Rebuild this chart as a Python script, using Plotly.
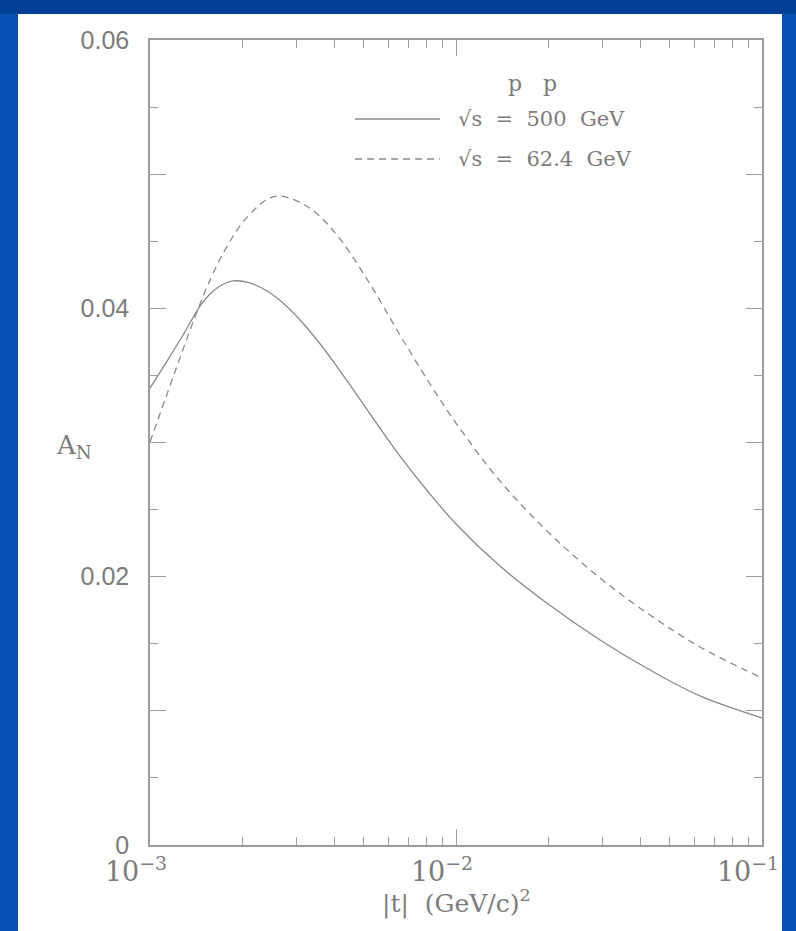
import plotly.graph_objects as go

# |t| values (GeV/c)^2 and analyzing power A_N for the two energies
t_500 = [0.001, 0.001137, 0.001282, 0.001457, 0.001571, 0.001694, 0.001867, 0.002122,
         0.002412, 0.002721, 0.003093, 0.003514, 0.003963, 0.004503, 0.005436, 0.006561,
         0.008222, 0.01, 0.01392, 0.02, 0.02956, 0.04305, 0.06272, 0.1]
an_500 = [0.03406, 0.03607, 0.03801, 0.04017, 0.04107, 0.04166, 0.04204, 0.04189,
          0.04129, 0.0404, 0.03913, 0.03764, 0.03607, 0.03429, 0.0316, 0.02899,
          0.02616, 0.02393, 0.02079, 0.01796, 0.01528, 0.01304, 0.01111, 0.00947]

t_624 = [0.001, 0.001119, 0.001253, 0.001403, 0.001571, 0.001758, 0.001968, 0.002203,
         0.002393, 0.0026, 0.002978, 0.003461, 0.004176, 0.005236, 0.006561, 0.008222,
         0.01, 0.01392, 0.02, 0.02956, 0.04305, 0.06272, 0.1]
an_624 = [0.03004, 0.03317, 0.0363, 0.03935, 0.04211, 0.04435, 0.04614, 0.0474,
          0.04807, 0.04837, 0.04807, 0.04718, 0.04517, 0.04181, 0.03801, 0.03436,
          0.03145, 0.02713, 0.02333, 0.0199, 0.01714, 0.01476, 0.01245]

x_major = [0.001, 0.01, 0.1]
x_major_text = ["10<sup>\u22123</sup>", "10<sup>\u22122</sup>", "10<sup>\u22121</sup>"]
x_minor = [m * d for d in (0.001, 0.01) for m in range(2, 10)]
y_major = [0, 0.01, 0.02, 0.03, 0.04, 0.05, 0.06]
y_major_text = ["0", "", "0.02", "", "0.04", "", "0.06"]
y_minor = [0.005, 0.015, 0.025, 0.035, 0.045, 0.055]

NB = "\u00a0"
legend_title = "p" + NB * 3 + "p"
legend_labels = ["\u221as" + NB * 2 + "=" + NB * 2 + "500" + NB * 2 + "GeV",
                 "\u221as" + NB * 2 + "=" + NB * 2 + "62.4" + NB * 2 + "GeV"]

INK = "#7c7c7c"
LINE = "#8a8a8a"
AXIS = "#9c9c9c"
SERIF = "DejaVu Serif"

fig = go.Figure()
fig.add_trace(go.Scatter(x=t_500, y=an_500, mode="lines",
                         line=dict(color=LINE, width=1.3, shape="spline", smoothing=1.0),
                         showlegend=False))
fig.add_trace(go.Scatter(x=t_624, y=an_624, mode="lines",
                         line=dict(color=LINE, width=1.3, dash="7px,5px", shape="spline", smoothing=1.0),
                         showlegend=False))

W, H = 796, 931
L, R, T, B = 150, 34, 40, 86
pw, ph = W - L - R, H - T - B


def px(x):
    return (x - L) / pw


def py(y):
    return (H - B - y) / ph


shapes = [
    # slide background bands
    dict(type="rect", xref="paper", yref="paper", x0=px(-2), x1=px(18), y0=py(H + 2), y1=py(-2),
         fillcolor="#0750b3", line=dict(width=0), layer="below"),
    dict(type="rect", xref="paper", yref="paper", x0=px(782), x1=px(W + 2), y0=py(H + 2), y1=py(-2),
         fillcolor="#0750b3", line=dict(width=0), layer="below"),
    dict(type="rect", xref="paper", yref="paper", x0=px(-2), x1=px(W + 2), y0=py(14), y1=py(-2),
         fillcolor="#003f98", line=dict(width=0), layer="below"),
    # legend sample lines
    dict(type="line", xref="paper", yref="paper", x0=px(355), x1=px(440), y0=py(119), y1=py(119),
         line=dict(color=LINE, width=1.3)),
    dict(type="line", xref="paper", yref="paper", x0=px(355), x1=px(440), y0=py(159), y1=py(159),
         line=dict(color=LINE, width=1.3, dash="7px,5px")),
]

annotations = [
    dict(text=legend_title, xref="paper", yref="paper", x=px(532), y=py(84), showarrow=False,
         xanchor="center", yanchor="middle", font=dict(family=SERIF, size=22, color=INK)),
    dict(text=legend_labels[0], xref="paper", yref="paper", x=px(456), y=py(119), showarrow=False,
         xanchor="left", yanchor="middle", font=dict(family=SERIF, size=21, color=INK)),
    dict(text=legend_labels[1], xref="paper", yref="paper", x=px(456), y=py(159), showarrow=False,
         xanchor="left", yanchor="middle", font=dict(family=SERIF, size=21, color=INK)),
    dict(text="A<sub>N</sub>", xref="paper", yref="paper", x=px(54), y=py(446), showarrow=False,
         xanchor="left", yanchor="middle", font=dict(family=SERIF, size=26, color=INK)),
    dict(text="|t|" + NB * 2 + "(GeV/c)<sup>2</sup>", xref="paper", yref="paper", x=0.5, y=py(902),
         showarrow=False, xanchor="center", yanchor="middle",
         font=dict(family=SERIF, size=25, color=INK)),
]

fig.update_layout(
    width=W, height=H,
    margin=dict(l=L, r=R, t=T, b=B, pad=0),
    paper_bgcolor="white", plot_bgcolor="white",
    shapes=shapes, annotations=annotations,
    showlegend=False,
)

fig.update_xaxes(
    type="log", range=[-3, -1], showgrid=False, zeroline=False,
    showline=True, linecolor=AXIS, linewidth=1.5, mirror="ticks",
    ticks="inside", ticklen=16, tickwidth=1.2, tickcolor=AXIS,
    tickmode="array", tickvals=x_major, ticktext=x_major_text,
    tickfont=dict(family=SERIF, size=27, color=INK), ticklabelshift=-14, ticklabelstandoff=2,
    minor=dict(ticks="inside", ticklen=8, tickwidth=1, tickcolor=AXIS, tickmode="array", tickvals=x_minor),
)
fig.update_yaxes(
    range=[0, 0.06], showgrid=False, zeroline=False,
    showline=True, linecolor=AXIS, linewidth=1.5, mirror="ticks",
    ticks="inside", ticklen=16, tickwidth=1.2, tickcolor=AXIS,
    tickmode="array", tickvals=y_major, ticktext=y_major_text,
    tickfont=dict(family="Liberation Sans", size=25, color=INK), ticklabelstandoff=14,
    minor=dict(ticks="inside", ticklen=8, tickwidth=1, tickcolor=AXIS, tickmode="array", tickvals=y_minor),
)

fig.write_html("out.html")
